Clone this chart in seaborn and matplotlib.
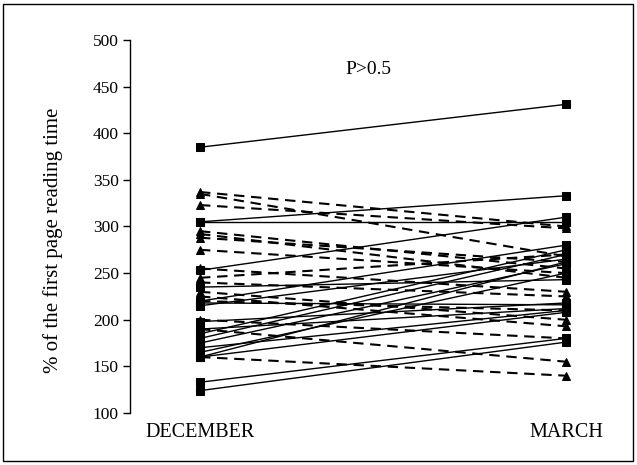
import matplotlib
matplotlib.use("Agg")
import matplotlib.pyplot as plt
import seaborn as sns
import pandas as pd
from matplotlib.patches import Rectangle

months = ["DECEMBER", "MARCH"]

# solid group (square markers): December, March
solid_dec = [385, 305, 305, 253, 235, 220, 218, 215, 198, 190, 185, 180, 175, 170, 165, 160, 160, 133, 124]
solid_mar = [431, 333, 305, 310, 243, 280, 216, 265, 218, 212, 275, 270, 260, 210, 250, 208, 262, 180, 176]

# dashed group (triangle markers): December, March
dash_dec = [337, 335, 323, 295, 292, 288, 275, 255, 245, 240, 230, 225, 220, 200, 190, 160]
dash_mar = [300, 268, 298, 255, 245, 262, 250, 230, 270, 225, 200, 193, 210, 180, 155, 140]

yticks = [100, 150, 200, 250, 300, 350, 400, 450, 500]

rows = []
sid = 0
for d, m in zip(dash_dec, dash_mar):
    rows.append(dict(subject=sid, pos=0, value=d, group="B"))
    rows.append(dict(subject=sid, pos=1, value=m, group="B"))
    sid += 1
for d, m in zip(solid_dec, solid_mar):
    rows.append(dict(subject=sid, pos=0, value=d, group="A"))
    rows.append(dict(subject=sid, pos=1, value=m, group="A"))
    sid += 1
df = pd.DataFrame(rows)

sns.set_theme(style="white")
plt.rcParams["font.family"] = ["Liberation Serif", "DejaVu Serif"]

fig = plt.figure(figsize=(6.37, 4.65), dpi=100)
ax = fig.add_axes([130/637, 52/465, 480/637, 373/465])

dfa = df[df.group == "B"]
sns.lineplot(data=dfa, x="pos", y="value", units="subject", estimator=None,
             color="black", linewidth=1.5, ax=ax, marker="^", markersize=6,
             markeredgecolor="black", dashes=False, legend=False)
for ln in ax.lines:
    ln.set_dashes((5, 3.2))
dfs = df[df.group == "A"]
sns.lineplot(data=dfs, x="pos", y="value", units="subject", estimator=None,
             color="black", linewidth=1.0, ax=ax, marker="s", markersize=6,
             markeredgecolor="black", legend=False)

ax.set_xlim((130 - 200) / 366, (610 - 200) / 366)
ax.set_ylim(100, 500)
ax.set_yticks(yticks)
ax.set_xticks([0, 1])
ax.set_xticklabels(months)
ax.set_xlabel("")
ax.set_ylabel("")
for s in ["top", "right", "bottom"]:
    ax.spines[s].set_visible(False)
ax.spines["left"].set_color("black")
ax.spines["left"].set_linewidth(1.0)
ax.tick_params(axis="y", left=True, length=5, width=1, color="black",
               direction="out", labelsize=12.5, pad=3, labelcolor="black")
ax.tick_params(axis="x", bottom=False, length=0, labelsize=14.5, pad=7,
               labelcolor="black")
ax.grid(False)

ax.text(0.459, 468, "P>0.5", ha="center", va="center", fontsize=14, color="black")

fig.text(53/637, 1 - 240/465, "% of the first page reading time", rotation=90,
         ha="center", va="center", fontsize=15, color="black")

fig.patches.append(Rectangle((3/637, 4/465), 630/637, 457/465,
                             transform=fig.transFigure, fill=False,
                             edgecolor="black", linewidth=1.0))

fig.savefig("out.png", dpi=100)
